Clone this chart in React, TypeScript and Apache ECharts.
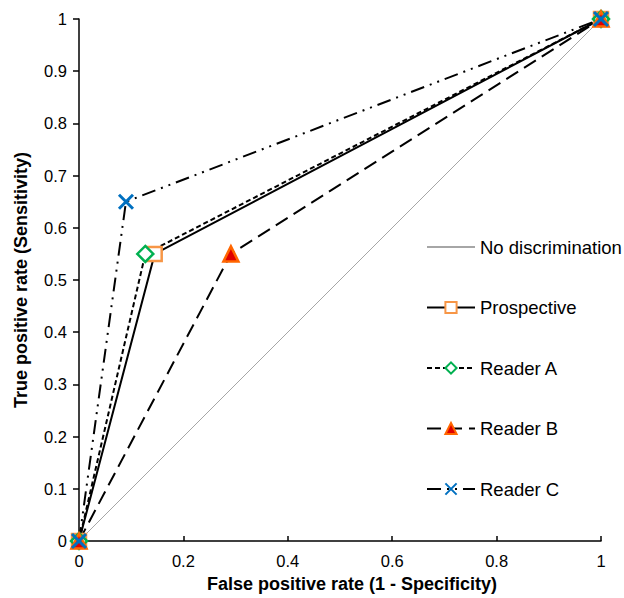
import React, { useEffect, useRef } from "react";
import * as echarts from "echarts";

const diagonalX = [0, 1];
const diagonalY = [0, 1];
const prospectiveX = [0, 0.145, 1];
const prospectiveY = [0, 0.55, 1];
const readerAX = [0, 0.127, 1];
const readerAY = [0, 0.55, 1];
const readerBX = [0, 0.291, 1];
const readerBY = [0, 0.55, 1];
const readerCX = [0, 0.09, 1];
const readerCY = [0, 0.65, 1];

const pairs = (xs: number[], ys: number[]) => xs.map((x, i) => [x, ys[i]]);

const FONT = "Arial, 'Liberation Sans', sans-serif";

export default function App() {
  const ref = useRef<HTMLDivElement>(null);
  useEffect(() => {
    if (!ref.current) return;
    const chart = echarts.init(ref.current, null, { renderer: "svg" });
    chart.setOption({
      animation: false,
      backgroundColor: "#ffffff",
      grid: { left: 79, right: 23, top: 19, bottom: 56 },
      legend: {
        orient: "vertical",
        left: 421,
        top: 231,
        itemWidth: 48,
        itemHeight: 14,
        itemGap: 38.5,
        textStyle: { fontFamily: FONT, fontSize: 18.5, lineHeight: 22, color: "#000" },
        data: [
          {
            name: "No discrimination",
            itemStyle: { color: "rgba(0,0,0,0)", borderColor: "rgba(0,0,0,0)", borderWidth: 0 },
          },
          "Prospective",
          "Reader A",
          "Reader B",
          "Reader C",
        ],
      },
      xAxis: {
        type: "value",
        min: 0,
        max: 1,
        interval: 0.2,
        name: "False positive rate (1 - Specificity)",
        nameLocation: "middle",
        nameGap: 34,
        nameTextStyle: {
          fontFamily: FONT,
          fontSize: 18,
          fontWeight: "bold",
          color: "#000",
          padding: [0, 0, 0, 24],
        },
        axisLine: { lineStyle: { color: "#000", width: 1.5 } },
        axisTick: { inside: true, length: 5, lineStyle: { color: "#000", width: 1.5 } },
        axisLabel: { fontFamily: FONT, fontSize: 16.5, color: "#000", margin: 11 },
        splitLine: { show: false },
      },
      yAxis: {
        type: "value",
        min: 0,
        max: 1,
        interval: 0.1,
        name: "True positive rate (Sensitivity)",
        nameLocation: "middle",
        nameGap: 49,
        nameTextStyle: { fontFamily: FONT, fontSize: 18, fontWeight: "bold", color: "#000" },
        axisLine: { show: true, lineStyle: { color: "#000", width: 1.5 } },
        axisTick: { show: true, inside: false, length: 6, lineStyle: { color: "#000", width: 1.5 } },
        axisLabel: { fontFamily: FONT, fontSize: 16.5, color: "#000", margin: 12 },
        splitLine: { show: false },
      },
      series: [
        {
          name: "No discrimination",
          type: "line",
          data: pairs(diagonalX, diagonalY),
          symbol: "none",
          lineStyle: { color: "#a6a6a6", width: 1 },
          itemStyle: { color: "#a6a6a6" },
        },
        {
          name: "Prospective",
          type: "line",
          data: pairs(prospectiveX, prospectiveY),
          symbol: "rect",
          symbolSize: 14,
          lineStyle: { color: "#000", width: 2, type: "solid" },
          itemStyle: { color: "#fff", borderColor: "#F79646", borderWidth: 2.5 },
        },
        {
          name: "Reader A",
          type: "line",
          data: pairs(readerAX, readerAY),
          symbol: "diamond",
          symbolSize: 16,
          lineStyle: { color: "#000", width: 2, type: [5, 3] },
          itemStyle: { color: "#fff", borderColor: "#00B050", borderWidth: 2.5 },
        },
        {
          name: "Reader B",
          type: "line",
          data: pairs(readerBX, readerBY),
          symbol: "triangle",
          symbolSize: 15,
          lineStyle: { color: "#000", width: 2, type: [14, 7] },
          itemStyle: { color: "#E00000", borderColor: "#FF6600", borderWidth: 2.5 },
        },
        {
          name: "Reader C",
          type: "line",
          data: pairs(readerCX, readerCY),
          symbol: "path://M0,0 L10,10 M10,0 L0,10",
          symbolSize: 14,
          lineStyle: { color: "#000", width: 2, type: [14, 6, 2, 6, 2, 6] },
          itemStyle: { color: "none", borderColor: "#0070C0", borderWidth: 3 },
        },
      ],
    });
    return () => chart.dispose();
  }, []);
  return <div ref={ref} style={{ width: 624, height: 598, position: "absolute", left: 0, top: 0 }} />;
}
